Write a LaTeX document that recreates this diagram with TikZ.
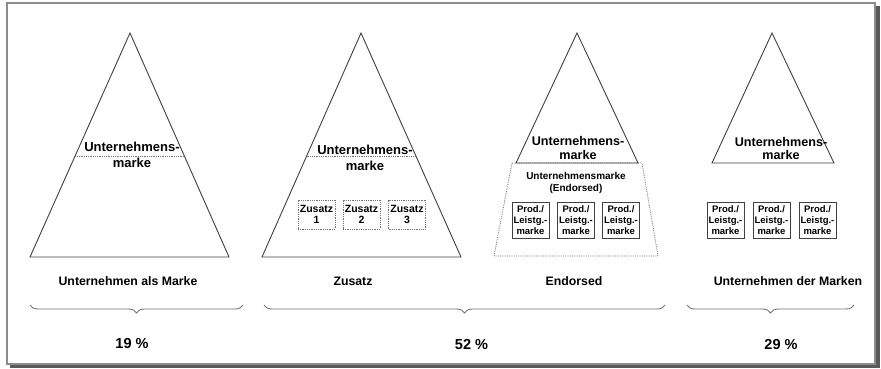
\documentclass[tikz,border=0pt]{standalone}
\usepackage{fontspec}
\setmainfont{Liberation Sans}
\usetikzlibrary{calc,decorations.pathreplacing}
\definecolor{edgegray}{gray}{0.25}
\definecolor{dotgray}{gray}{0.45}
\definecolor{framegray}{gray}{0.55}
\definecolor{shadegray}{gray}{0.35}
\tikzset{
  pyr/.style={draw=edgegray, line width=0.9pt, line join=miter},
  divider/.style={draw=dotgray, line width=0.8pt, densely dotted},
  zbox/.style={draw=dotgray, densely dotted, line width=0.8pt, minimum width=37pt, minimum height=29pt, inner sep=0pt, align=center, font=\fontsize{10.5}{10.5}\selectfont\bfseries},
  pbox/.style={draw=edgegray, line width=0.9pt, minimum width=37pt, minimum height=36pt, inner sep=0pt, align=center, font=\fontsize{9.5}{11}\selectfont\bfseries},
  brandtxt/.style={align=center, inner sep=0pt, font=\fontsize{13}{16}\selectfont\bfseries},
  endtxt/.style={align=center, inner sep=0pt, font=\fontsize{10}{12}\selectfont\bfseries},
  lbl/.style={inner sep=0pt, font=\fontsize{12.3}{14}\selectfont\bfseries},
  pct/.style={inner sep=0pt, font=\fontsize{14.5}{16}\selectfont\bfseries},
  brc/.style={draw=dotgray, line width=0.9pt, decorate, decoration={brace, mirror, amplitude=8pt}},
}
\begin{document}
\begin{tikzpicture}[x=1pt,y=-1pt]
\useasboundingbox (0,0) rectangle (881,368);
\fill[shadegray] (10,6) rectangle (879.5,367.5);
\draw[framegray, line width=1.2pt, fill=white] (7,3) rectangle (875,364);

\coordinate (ua) at (130,33);
\coordinate (ul) at (30,257);
\coordinate (ur) at (229,257);
\draw[pyr] (ua) -- (ul) -- (ur) -- cycle;
\draw[divider] ($(ua)!0.549!(ul)$) -- ($(ua)!0.549!(ur)$);
\node (um) at (132,154.5) [brandtxt] {Unternehmens-\\marke};

\coordinate (za) at (361,33);
\coordinate (zl) at (262,257);
\coordinate (zr) at (461,257);
\draw[pyr] (za) -- (zl) -- (zr) -- cycle;
\draw[divider] ($(za)!0.549!(zl)$) -- ($(za)!0.549!(zr)$);
\node (zm) at (365,158) [brandtxt] {Unternehmens-\\marke};
\node (z1) at (316.5,214.5) [zbox] {Zusatz\\1};
\node (z2) at (361.5,214.5) [zbox] {Zusatz\\2};
\node (z3) at (407,214.5) [zbox] {Zusatz\\3};

\coordinate (ea) at (577,33);
\coordinate (el) at (516,163);
\coordinate (er) at (638,163);
\draw[divider] (512,163) -- (642,163) -- (658,256) -- (494,256) -- cycle;
\draw[pyr] (ea) -- (el) -- (er) -- cycle;
\node (em) at (578,148) [brandtxt, font=\fontsize{12.6}{14.5}\selectfont\bfseries] {Unternehmens-\\marke};
\node (ee) at (576,183) [endtxt] {Unternehmensmarke\\(Endorsed)};
\node (e1) at (530.5,220) [pbox] {Prod./\\Leistg.-\\marke};
\node (e2) at (576,220) [pbox] {Prod./\\Leistg.-\\marke};
\node (e3) at (621,220) [pbox] {Prod./\\Leistg.-\\marke};

\coordinate (da) at (772,33);
\coordinate (dl) at (712,163);
\coordinate (dr) at (834,163);
\draw[pyr] (da) -- (dl) -- (dr) -- cycle;
\node (dm) at (781,148.5) [brandtxt, font=\fontsize{12.6}{13.5}\selectfont\bfseries] {Unternehmens-\\marke};
\node (d1) at (725.5,220) [pbox] {Prod./\\Leistg.-\\marke};
\node (d2) at (771.5,220) [pbox] {Prod./\\Leistg.-\\marke};
\node (d3) at (817.5,220) [pbox] {Prod./\\Leistg.-\\marke};

\node (l1) at (128,281) [lbl] {Unternehmen als Marke};
\node (l2) at (353,281) [lbl] {Zusatz};
\node (l3) at (574,281) [lbl] {Endorsed};
\node (l4) at (788,281) [lbl] {Unternehmen der Marken};

\coordinate (b1l) at (30,305);
\coordinate (b1r) at (243,305);
\coordinate (b2l) at (264,305);
\coordinate (b2r) at (665,305);
\coordinate (b3l) at (687,305);
\coordinate (b3r) at (854,305);
\draw[brc] (b1l) -- (b1r);
\draw[brc] (b2l) -- (b2r);
\draw[brc] (b3l) -- (b3r);

\node (p1) at (132,343) [pct] {19 \%};
\node (p2) at (471.5,344) [pct] {52 \%};
\node (p3) at (781,344) [pct] {29 \%};
\end{tikzpicture}
\end{document}
